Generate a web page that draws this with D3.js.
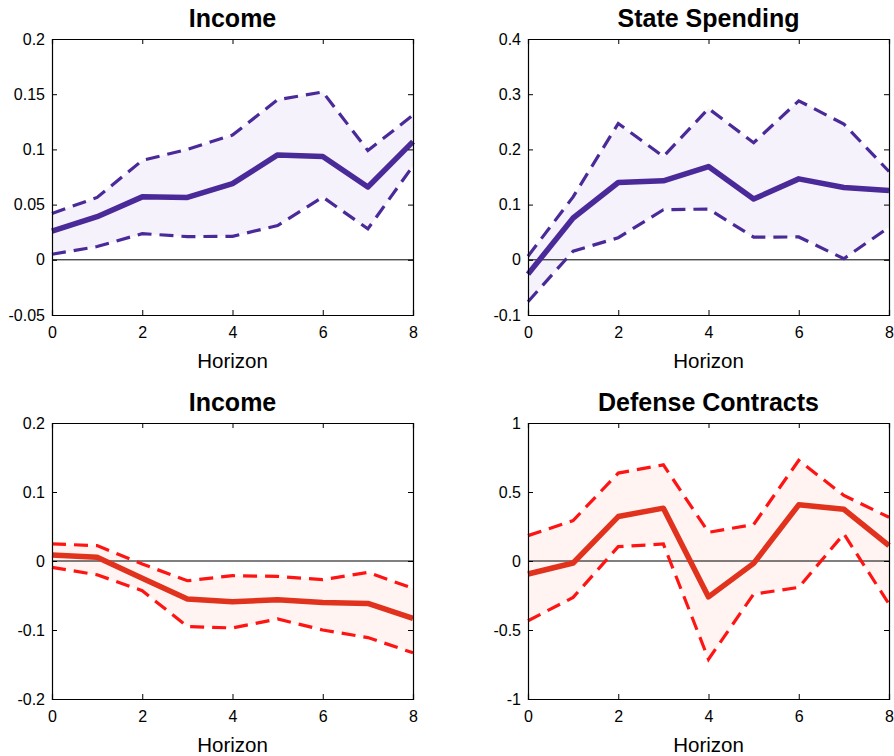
<!DOCTYPE html>
<html>
<head>
<meta charset="utf-8">
<script src="https://cdn.jsdelivr.net/npm/d3@7"></script>
<style>
  body { margin: 0; background: #fff; }
  svg text { font-family: "Liberation Sans", Arial, sans-serif; fill: #000; }
</style>
</head>
<body>
<svg id="chart" width="894" height="756"></svg>
<script>
var horizon = [0, 1, 2, 3, 4, 5, 6, 7, 8]

// top left: Income (state spending shock)
var incomeA_mid = [0.026, 0.039, 0.057, 0.0565, 0.069, 0.095, 0.0935, 0.066, 0.107]
var incomeA_hi  = [0.042, 0.0565, 0.09, 0.100, 0.113, 0.145, 0.152, 0.099, 0.131]
var incomeA_lo  = [0.005, 0.012, 0.0237, 0.021, 0.0213, 0.031, 0.0568, 0.028, 0.085]

// top right: State Spending
var stateS_mid = [-0.026, 0.0757, 0.14, 0.143, 0.169, 0.11, 0.1466, 0.131, 0.1255]
var stateS_hi  = [0.0066, 0.114, 0.247, 0.187, 0.274, 0.212, 0.288, 0.246, 0.16]
var stateS_lo  = [-0.076, 0.0156, 0.04, 0.0907, 0.092, 0.041, 0.0414, 0.002, 0.059]

// bottom left: Income (defense contracts shock)
var incomeB_mid = [0.0087, 0.0053, -0.025, -0.055, -0.059, -0.056, -0.060, -0.0615, -0.083]
var incomeB_hi  = [0.0247, 0.0223, -0.0044, -0.0286, -0.0213, -0.0223, -0.027, -0.0165, -0.0397]
var incomeB_lo  = [-0.0092, -0.020, -0.043, -0.095, -0.097, -0.084, -0.100, -0.111, -0.133]

// bottom right: Defense Contracts
var defense_mid = [-0.094, -0.0145, 0.322, 0.383, -0.26, -0.017, 0.407, 0.375, 0.111]
var defense_hi  = [0.184, 0.293, 0.637, 0.697, 0.208, 0.264, 0.729, 0.475, 0.317]
var defense_lo  = [-0.433, -0.264, 0.104, 0.123, -0.712, -0.24, -0.191, 0.196, -0.312]

var xTicks = [0, 2, 4, 6, 8]
var yTicksA = [-0.05, 0, 0.05, 0.1, 0.15, 0.2]
var yTicksB = [-0.1, 0, 0.1, 0.2, 0.3, 0.4]
var yTicksC = [-0.2, -0.1, 0, 0.1, 0.2]
var yTicksD = [-1, -0.5, 0, 0.5, 1]

var purple = {line: "#4a2a99", band: "#f5f2fb"}
var red = {line: "#e0321c", dash: "#ff1414", band: "#fff4f1"}

var panels = [
	{title: "Income", mid: incomeA_mid, hi: incomeA_hi, lo: incomeA_lo, ticks: yTicksA, col: purple, x0: 52, y0: 39},
	{title: "State Spending", mid: stateS_mid, hi: stateS_hi, lo: stateS_lo, ticks: yTicksB, col: purple, x0: 528, y0: 39},
	{title: "Income", mid: incomeB_mid, hi: incomeB_hi, lo: incomeB_lo, ticks: yTicksC, col: red, x0: 52, y0: 423},
	{title: "Defense Contracts", mid: defense_mid, hi: defense_hi, lo: defense_lo, ticks: yTicksD, col: red, x0: 528, y0: 423}
]

var pw = 361, ph = 276
var svg = d3.select("#chart")

panels.forEach(function(p) {
	var g = svg.append("g").attr("transform", "translate(" + p.x0 + "," + p.y0 + ")")
	var x = d3.scaleLinear().domain([0, 8]).range([0, pw])
	var y = d3.scaleLinear().domain(d3.extent(p.ticks)).range([ph, 0])
	var rows = horizon.map(function(h, i) { return {h: h, m: p.mid[i], hi: p.hi[i], lo: p.lo[i]} })

	g.append("path")
		.datum(rows)
		.attr("fill", p.col.band)
		.attr("d", d3.area().x(function(d) { return x(d.h) }).y0(function(d) { return y(d.lo) }).y1(function(d) { return y(d.hi) }))

	g.append("line")
		.attr("x1", 0).attr("x2", pw)
		.attr("y1", y(0)).attr("y2", y(0))
		.attr("stroke", "#000").attr("stroke-width", 1)

	var line = function(key) {
		return d3.line().x(function(d) { return x(d.h) }).y(function(d) { return y(d[key]) })
	}
	;["hi", "lo"].forEach(function(k) {
		g.append("path")
			.datum(rows)
			.attr("fill", "none")
			.attr("stroke", p.col.dash || p.col.line)
			.attr("stroke-width", 3.2)
			.attr("stroke-dasharray", "14,8")
			.attr("d", line(k))
	})
	g.append("path")
		.datum(rows)
		.attr("fill", "none")
		.attr("stroke", p.col.line)
		.attr("stroke-width", 5.5)
		.attr("stroke-linejoin", "round")
		.attr("d", line("m"))

	// axes with inward ticks on all four sides; plain hyphen for negatives
	var fmt = function(d) { return String(+d.toFixed(2)) }
	var bottom = g.append("g").attr("transform", "translate(0," + ph + ")")
		.call(d3.axisBottom(x).tickValues(xTicks).tickSize(-5).tickPadding(12).tickFormat(d3.format("d")))
	var top = g.append("g").call(d3.axisTop(x).tickValues(xTicks).tickSize(-5).tickFormat(""))
	var left = g.append("g").call(d3.axisLeft(y).tickValues(p.ticks).tickSize(-5).tickPadding(7).tickFormat(fmt))
	var right = g.append("g").attr("transform", "translate(" + pw + ",0)")
		.call(d3.axisRight(y).tickValues(p.ticks).tickSize(-5).tickFormat(""))
	;[bottom, top, left, right].forEach(function(a) {
		a.select(".domain").attr("stroke", "#000").attr("stroke-width", 1.2)
		a.selectAll(".tick line").attr("stroke", "#000")
		a.selectAll("text").attr("font-size", 16).attr("font-family", "Liberation Sans, Arial, sans-serif")
	})

	g.append("text")
		.attr("x", pw / 2).attr("y", -12)
		.attr("text-anchor", "middle")
		.attr("font-size", 25).attr("font-weight", "bold")
		.text(p.title)

	g.append("text")
		.attr("x", pw / 2).attr("y", ph + 53)
		.attr("text-anchor", "middle")
		.attr("font-size", 20.5)
		.text("Horizon")
})
</script>
</body>
</html>
